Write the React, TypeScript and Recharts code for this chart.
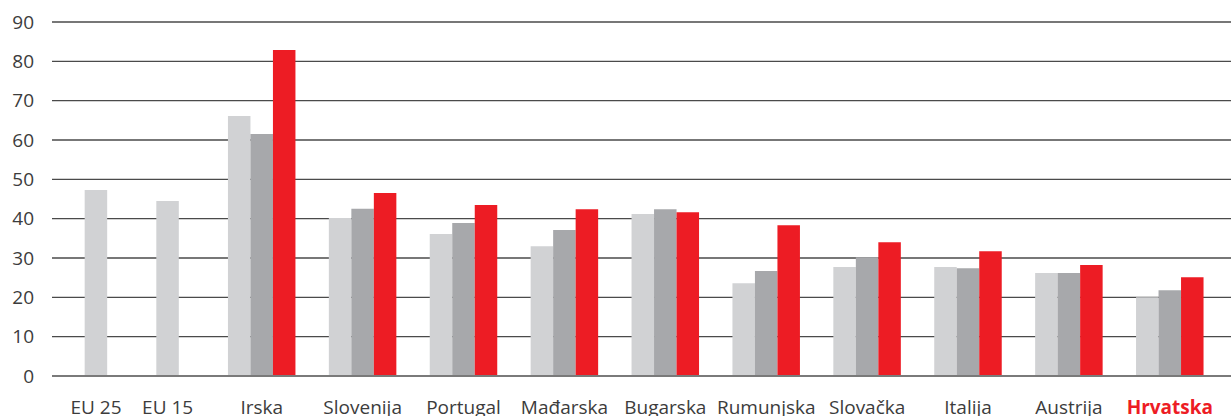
import React from 'react';
import { BarChart, Bar, XAxis, YAxis, CartesianGrid } from 'recharts';

// --- Data ---
const categories = ['EU 25', 'EU 15', 'Irska', 'Slovenija', 'Portugal', 'Mađarska', 'Bugarska', 'Rumunjska', 'Slovačka', 'Italija', 'Austrija', 'Hrvatska'];
const lightSeries = [47.3, 44.5, 66.1, 40.2, 36.1, 33.0, 41.2, 23.6, 27.7, 27.7, 26.2, 20.0];
const darkSeries = [null, null, 61.5, 42.5, 38.9, 37.1, 42.4, 26.7, 30.2, 27.4, 26.2, 21.8];
const redSeries = [null, null, 82.9, 46.5, 43.5, 42.4, 41.6, 38.3, 34.0, 31.7, 28.2, 25.1];
const yTicks = [0, 10, 20, 30, 40, 50, 60, 70, 80, 90];

const highlighted = 'Hrvatska';
const aggregateCount = 2; // EU 25 and EU 15 sit closer together, light bar only

const FONT = '"Open Sans", sans-serif';
const TEXT = '#3c3c3c';
const RED = '#ed1c24';
const BAR = 22.5;
const EU_STEP = 0.71;

// x slot for each category: countries one unit apart, aggregates packed tighter before them
const slots = categories.map((_, i) => (i < aggregateCount ? aggregateCount - (aggregateCount - i) * EU_STEP : i));

const data = categories.map((name, i) => ({
  name,
  slot: slots[i],
  light: lightSeries[i],
  dark: darkSeries[i],
  red: redSeries[i],
}));

const XTick = (props: any) => {
  const { x, y, payload } = props;
  const i = slots.indexOf(payload.value);
  if (i < 0) return null;
  const name = categories[i];
  const isAgg = i < aggregateCount;
  const isHl = name === highlighted;
  return (
    <text
      x={isAgg ? x - BAR : x}
      y={y}
      dy="0.71em"
      textAnchor="middle"
      fontFamily={FONT}
      fontSize={19}
      fontWeight={isHl ? 700 : 400}
      fill={isHl ? RED : TEXT}
    >
      {name}
    </text>
  );
};

const App: React.FC = () => {
  return (
    <div style={{ position: 'absolute', left: 0, top: 0, width: 1231, height: 416, background: '#fff' }}>
      <BarChart
        width={1231}
        height={416}
        data={data}
        barGap={0}
        margin={{ top: 22, right: 0, bottom: 0, left: 0 }}
      >
        <CartesianGrid vertical={false} stroke="#4a4a4a" strokeWidth={1.4} />
        <XAxis
          type="number"
          dataKey="slot"
          domain={[-0.079, 11.606]}
          ticks={slots}
          interval={0}
          height={40}
          tickLine={false}
          tickMargin={19}
          axisLine={{ stroke: '#7a7a7a', strokeWidth: 1.8 }}
          tick={<XTick />}
        />
        <YAxis
          domain={[0, 90]}
          ticks={yTicks}
          width={52}
          interval={0}
          axisLine={false}
          tickLine={false}
          tickMargin={12}
          tick={{ fill: TEXT, fontSize: 19, fontFamily: FONT }}
        />
        <Bar dataKey="light" fill="#d1d2d4" barSize={BAR} isAnimationActive={false} />
        <Bar dataKey="dark" fill="#a7a8ab" barSize={BAR} isAnimationActive={false} />
        <Bar dataKey="red" fill={RED} barSize={BAR} isAnimationActive={false} />
      </BarChart>
    </div>
  );
};

export default App;
